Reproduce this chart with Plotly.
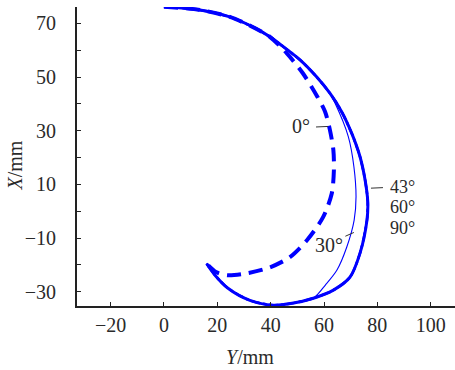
import plotly.graph_objects as go

# Outer trajectory (43°, 60°, 90° overlap) : Y (mm), X (mm)
outer_Y = [0, 13.5, 24.7, 34, 39.7, 44.1, 51, 57.2, 62.2, 66.6, 70.4, 73.5, 75.4, 76.4,
           76.1, 73.5, 69.7, 63.5, 56, 48, 40.9, 32.2, 24, 19.3, 16]
outer_X = [76.2, 75, 72.4, 68.3, 65, 61.8, 56.4, 50.1, 44, 37.1, 29, 20.3, 11.6, 3.5,
           -3.3, -15.6, -24.6, -29.4, -32.4, -34.3, -35, -33.2, -28.7, -24, -19.5]

# 0° trajectory (dashed)
d0_Y = [0, 13.5, 24.7, 34, 39.7, 46, 52, 57.5, 60.4, 62.2, 63.5, 63.7, 62.9, 59.6,
        53.6, 47.2, 39.7, 31.1, 23.6, 19.5, 16]
d0_X = [76.2, 75, 72.4, 68.3, 65, 58.9, 51.5, 42.7, 37.1, 30.3, 22.8, 15.3, 6.6, -2.3,
        -10.8, -17.1, -20.9, -23.1, -23.8, -22.6, -19.5]

# 30° trajectory (thin)
d30_Y = [0, 13.5, 24.7, 34, 39.7, 44.1, 51, 57.2, 61.5, 64.1, 69.1, 71.2, 72, 71.3,
         68.5, 64.8, 60.5, 56, 48, 40.9, 32.2, 24, 19.3, 16]
d30_X = [76.2, 75, 72.4, 68.3, 65, 61.8, 56.4, 50.1, 45, 40.3, 27.8, 16.6, 5.4, -3.3,
         -13.4, -22, -27.5, -32.4, -34.3, -35, -33.2, -28.7, -24, -19.5]

x_ticks = [-20, 0, 20, 40, 60, 80, 100]
y_ticks = [-30, -20, -10, 0, 10, 20, 30, 40, 50, 60, 70]
y_ticktext = ["\u221230", "", "\u221210", "", "10", "", "30", "", "50", "", "70"]
x_ticktext = ["\u221220", "0", "20", "40", "60", "80", "100"]

labels = ["0°", "43°", "60°", "90°", "30°"]
label_Y = [51.4, 89.3, 89.3, 89.3, 62.0]
label_X = [31.8, 9.2, 1.5, -6.2, -12.6]
label_size = [20, 18, 18, 18, 20]

blue = "#0000FF"
txt = "#2a2a2a"
font = "Liberation Serif"
fs = 20

fig = go.Figure()
fig.add_trace(go.Scatter(x=d0_Y, y=d0_X, mode="lines", line=dict(color=blue, width=4, dash="14px,8px", shape="spline", smoothing=0.8), name="0°"))
fig.add_trace(go.Scatter(x=d30_Y, y=d30_X, mode="lines", line=dict(color=blue, width=1.1, shape="spline", smoothing=0.8), name="30°"))
fig.add_trace(go.Scatter(x=outer_Y, y=outer_X, mode="lines", line=dict(color=blue, width=3, shape="spline", smoothing=0.8), name="43°"))
fig.add_trace(go.Scatter(x=outer_Y, y=outer_X, mode="lines", line=dict(color=blue, width=2.5, dash="dashdot", shape="spline", smoothing=0.8), name="60°"))
fig.add_trace(go.Scatter(x=outer_Y, y=outer_X, mode="lines", line=dict(color=blue, width=2, dash="dot", shape="spline", smoothing=0.8), name="90°"))

for t, yy, xx, sz in zip(labels, label_Y, label_X, label_size):
    fig.add_annotation(x=yy, y=xx, text=t, showarrow=False,
                       font=dict(family=font, size=sz, color=txt))

# leader lines
fig.add_shape(type="line", x0=57.0, y0=31.4, x1=61.5, y1=31.6, line=dict(color="#333", width=1))
fig.add_shape(type="line", x0=77.6, y0=8.6, x1=82.1, y1=8.8, line=dict(color="#333", width=1))
fig.add_shape(type="line", x0=68.0, y0=-9.3, x1=71.2, y1=-7.9, line=dict(color="#333", width=1))

fig.add_annotation(xref="paper", yref="paper", x=0.458, y=-0.171, xanchor="center", yanchor="middle",
                   text="<i>Y</i>/mm", showarrow=False, font=dict(family=font, size=fs, color=txt))
fig.add_annotation(xref="paper", yref="paper", x=-0.164, y=0.47, xanchor="center", yanchor="middle",
                   text="<i>X</i>/mm", showarrow=False, textangle=-90, font=dict(family=font, size=fs, color=txt))

fig.update_layout(
    width=455, height=370,
    margin=dict(l=77, r=0, t=7, b=64),
    plot_bgcolor="white", paper_bgcolor="white",
    showlegend=False,
    font=dict(family=font, size=fs, color=txt),
)
fig.update_xaxes(range=[-32.6, 109.1], tickvals=x_ticks, ticktext=x_ticktext, ticks="inside", ticklen=4,
                 tickcolor="#222", showline=True, linecolor="#222", linewidth=2, showgrid=False, zeroline=False,
                 tickfont=dict(family=font, size=fs, color=txt), ticklabelstandoff=0, automargin=False)
fig.update_yaxes(range=[-35.3, 76.1], tickvals=y_ticks, ticktext=y_ticktext, ticks="inside", ticklen=4,
                 tickcolor="#222", showline=True, linecolor="#222", linewidth=2, showgrid=False, zeroline=False,
                 tickfont=dict(family=font, size=fs, color=txt), ticklabelstandoff=15, automargin=False)

fig.write_html("out.html", config={"displayModeBar": False}, post_script="document.body.style.margin='0';")
